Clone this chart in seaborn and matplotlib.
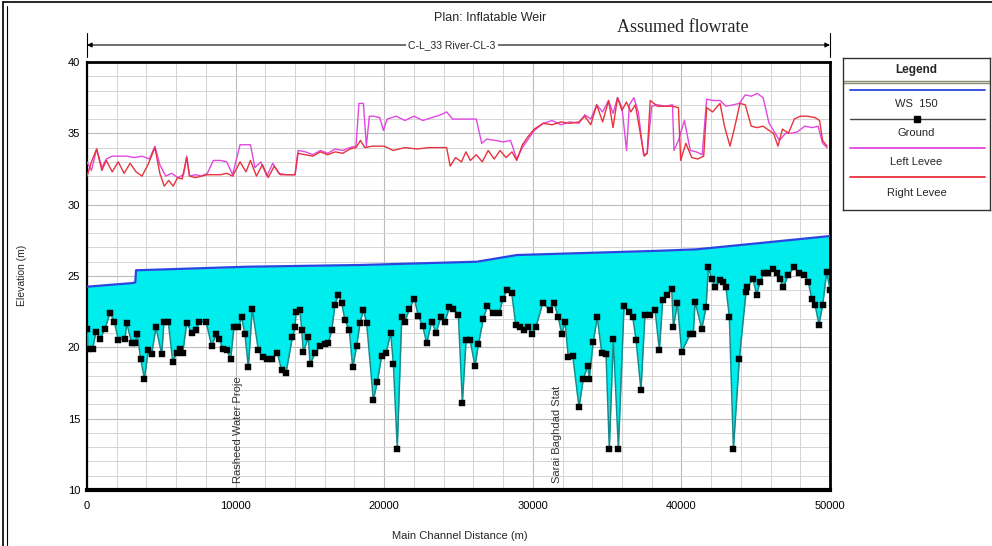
import numpy as np
import pandas as pd
import matplotlib
matplotlib.use('Agg')
import matplotlib.pyplot as plt
from matplotlib.lines import Line2D
import seaborn as sns

# ---------------- data ----------------
ground = [(0, 21.3), (60, 19.9), (380, 19.9), (606, 21.1), (875, 20.6), (1211, 21.3), (1548, 22.4),
          (1840, 21.8), (2110, 20.5), (2560, 20.6), (2670, 21.7), (3010, 20.3), (3230, 20.3), (3390, 20.9),
          (3610, 19.2), (3860, 17.8), (4130, 19.8), (4350, 19.5), (4640, 21.4), (5030, 19.5), (5180, 21.8),
          (5470, 21.8), (5770, 19.0), (6040, 19.6), (6260, 19.9), (6440, 19.6), (6710, 21.7), (7050, 21.0),
          (7340, 21.2), (7560, 21.8), (8010, 21.8), (8390, 20.1), (8680, 20.9), (8900, 20.6), (9130, 19.9),
          (9400, 19.8), (9670, 19.2), (9890, 21.4), (10180, 21.4), (10410, 22.1), (10630, 20.9), (10860, 18.6),
          (11120, 22.7), (11530, 19.8), (11820, 19.3), (12090, 19.2), (12430, 19.2), (12810, 19.6), (13100, 18.4),
          (13390, 18.2), (13820, 20.7), (14000, 21.4), (14070, 22.5), (14330, 22.6), (14450, 21.2), (14560, 19.7),
          (14900, 20.7), (15010, 18.8), (15350, 19.6), (15680, 20.1), (16020, 20.2), (16240, 20.3), (16470, 21.2),
          (16690, 23.0), (16910, 23.7), (17140, 23.1), (17360, 21.9), (17650, 21.2), (17880, 18.6), (18150, 20.1),
          (18370, 21.7), (18600, 22.6), (18820, 21.7), (19270, 16.3), (19540, 17.6), (19830, 19.4), (20120, 19.6),
          (20440, 21.0), (20620, 18.8), (20880, 12.9), (21180, 22.1), (21400, 21.8), (21690, 22.7), (22030, 23.4),
          (22300, 22.2), (22590, 21.5), (22860, 20.3), (23200, 21.8), (23490, 21.0), (23800, 22.1), (24090, 21.8),
          (24380, 22.8), (24650, 22.7), (24990, 22.3), (25260, 16.1), (25510, 20.5), (25780, 20.5), (26110, 18.7),
          (26340, 20.2), (26670, 22.0), (26940, 22.9), (27300, 22.4), (27750, 22.4), (27980, 23.4), (28250, 24.0),
          (28580, 23.8), (28850, 21.6), (29140, 21.4), (29430, 21.2), (29700, 21.4), (29930, 20.9), (30200, 21.4),
          (30670, 23.1), (31160, 22.6), (31430, 23.1), (31720, 22.1), (31950, 20.9), (32170, 21.8), (32390, 19.3),
          (32690, 19.4), (33110, 15.8), (33400, 17.8), (33700, 18.7), (33800, 17.8), (34070, 20.4), (34340, 22.1),
          (34640, 19.6), (34930, 19.5), (35150, 12.9), (35420, 20.6), (35760, 12.9), (36140, 22.9), (36500, 22.5),
          (36730, 22.1), (36950, 20.5), (37280, 17.0), (37550, 22.3), (37890, 22.3), (38230, 22.6), (38520, 19.8),
          (38740, 23.3), (39050, 23.7), (39350, 24.1), (39460, 21.4), (39730, 23.1), (40020, 19.7), (40580, 20.9),
          (40800, 20.9), (40920, 23.2), (41370, 21.3), (41660, 22.8), (41810, 25.6), (42040, 24.8), (42270, 24.2),
          (42600, 24.7), (42780, 24.6), (43000, 24.2), (43230, 22.1), (43500, 12.9), (43900, 19.2), (44350, 23.9),
          (44440, 24.2), (44800, 24.8), (45070, 23.7), (45290, 24.6), (45560, 25.2), (45850, 25.2), (46150, 25.5),
          (46410, 25.2), (46640, 24.8), (46860, 24.2), (47200, 25.1), (47580, 25.6), (47940, 25.2), (48280, 25.1),
          (48540, 24.6), (48770, 23.4), (48990, 23.0), (49260, 21.6), (49510, 23.0), (49780, 25.3), (50000, 24.0)]

ws_150 = [(0, 24.25), (3010, 24.5), (3250, 24.55), (3300, 25.4), (10750, 25.65), (18370, 25.77),
          (26230, 26.0), (28920, 26.47), (38560, 26.77), (41030, 26.87), (44620, 27.24), (50000, 27.8)]

left_levee = [(0, 33.0), (300, 32.4), (650, 33.9), (1000, 32.6), (1300, 33.2), (1700, 33.4), (2200, 33.4),
              (2700, 33.4), (3200, 33.3), (3700, 33.4), (4200, 33.2), (4570, 34.1), (4900, 32.8), (5300, 32.0),
              (5700, 32.2), (6100, 31.9), (6500, 32.1), (6710, 33.4), (6900, 32.0), (7300, 32.1), (7700, 32.0),
              (8100, 32.2), (8500, 33.1), (9000, 33.1), (9400, 33.0), (9800, 32.1), (10300, 34.2), (11000, 34.2),
              (11300, 32.6), (11700, 33.0), (12100, 32.0), (12500, 32.9), (12900, 32.2), (13400, 32.1), (14000, 32.1),
              (14200, 33.8), (14700, 33.7), (15200, 33.5), (15700, 33.8), (16200, 33.6), (16700, 33.9), (17200, 33.8),
              (17700, 34.0), (18100, 34.1), (18300, 37.1), (18600, 37.1), (18800, 34.1), (19000, 36.2), (19300, 36.2),
              (19700, 36.1), (19950, 35.2), (20200, 36.0), (20800, 36.2), (21400, 35.9), (22000, 36.2), (22600, 35.9),
              (23200, 36.1), (23800, 36.3), (24200, 36.5), (24600, 36.0), (25200, 36.0), (25800, 36.0), (26200, 36.0),
              (26560, 34.3), (26900, 34.6), (27500, 34.5), (28000, 34.4), (28500, 34.5), (28920, 33.2), (29300, 34.0),
              (29700, 34.6), (30100, 35.2), (30700, 35.7), (31300, 35.9), (31900, 35.6), (32500, 35.8), (33100, 35.7),
              (33500, 36.3), (33900, 36.0), (34300, 37.0), (34700, 36.5), (35100, 37.3), (35400, 36.4), (35700, 37.5),
              (36000, 36.8), (36310, 33.8), (36500, 37.0), (36800, 37.5), (37100, 36.5), (37450, 33.5), (37700, 33.6),
              (38000, 36.9), (38400, 37.0), (38900, 36.9), (39400, 37.0), (39500, 33.8), (39800, 34.5), (40200, 35.9),
              (40600, 33.8), (41000, 33.7), (41400, 33.5), (41700, 37.4), (42100, 37.3), (42600, 37.3), (43000, 36.9),
              (43500, 37.0), (43900, 37.1), (44300, 37.7), (44700, 37.6), (45100, 37.8), (45500, 37.5), (45900, 35.7),
              (46200, 35.2), (46600, 34.5), (47000, 35.0), (47400, 35.0), (47800, 35.1), (48300, 35.5), (48800, 35.4),
              (49200, 35.5), (49500, 34.3), (49800, 34.0)]

right_levee = [(0, 32.0), (300, 33.0), (650, 33.9), (1000, 32.4), (1300, 33.1), (1700, 32.3), (2100, 33.0),
               (2500, 32.2), (2900, 32.9), (3300, 32.3), (3700, 32.0), (4100, 32.8), (4570, 34.0), (4900, 32.2),
               (5200, 31.3), (5500, 31.7), (5800, 31.3), (6100, 31.9), (6400, 31.8), (6710, 33.3), (6900, 32.0),
               (7300, 31.9), (7700, 32.0), (8100, 32.1), (8500, 32.1), (9000, 32.1), (9400, 32.2), (9800, 32.0),
               (10300, 33.0), (10700, 32.3), (11000, 33.1), (11400, 32.0), (11800, 32.8), (12200, 31.9), (12600, 32.7),
               (13000, 32.1), (13500, 32.1), (14000, 32.1), (14200, 33.6), (14700, 33.5), (15200, 33.4), (15700, 33.7),
               (16200, 33.5), (16700, 33.7), (17200, 33.6), (17700, 33.9), (18100, 34.0), (18400, 34.5), (18700, 34.0),
               (19200, 34.1), (20000, 34.1), (20600, 33.8), (21400, 34.0), (22200, 33.9), (23000, 34.0), (24200, 34.0),
               (24440, 32.7), (24800, 33.3), (25200, 33.0), (25500, 33.7), (25800, 33.1), (26200, 33.5), (26600, 33.0),
               (27000, 33.8), (27400, 33.2), (27800, 33.8), (28200, 33.3), (28600, 33.7), (28920, 33.1), (29300, 34.2),
               (29700, 34.8), (30100, 35.3), (30700, 35.7), (31300, 35.6), (31900, 35.8), (32500, 35.7), (33100, 35.8),
               (33500, 36.2), (33900, 35.6), (34300, 37.0), (34700, 35.8), (35100, 37.3), (35400, 35.4), (35700, 37.5),
               (36000, 36.6), (36300, 37.2), (36600, 36.5), (36900, 37.0), (37200, 35.2), (37500, 33.4), (37700, 33.6),
               (37900, 37.3), (38400, 36.9), (38900, 36.9), (39400, 36.9), (39800, 36.8), (39950, 33.1), (40300, 34.3),
               (40700, 33.3), (41100, 33.2), (41500, 33.4), (41700, 36.8), (42100, 36.5), (42600, 37.1), (42900, 35.5),
               (43270, 34.1), (43600, 35.5), (43940, 37.1), (44300, 37.0), (44700, 35.5), (45100, 35.4), (45500, 35.5),
               (45900, 35.2), (46200, 35.0), (46500, 34.1), (46800, 35.3), (47200, 35.0), (47600, 36.0), (48000, 36.2),
               (48500, 36.2), (49000, 36.1), (49300, 35.9), (49500, 34.5), (49800, 34.1)]

x_ticks = [0, 10000, 20000, 30000, 40000, 50000]
y_ticks = [10, 15, 20, 25, 30, 35, 40]
legend_labels = ["WS  150", "Ground", "Left Levee", "Right Levee"]
stations = [(10150, "Rasheed Water Proje"), (31650, "Sarai Baghdad Stat")]

# ---------------- styling ----------------
sns.set_style('white')
plt.rcParams['font.family'] = ['Liberation Sans', 'DejaVu Sans']

W, H = 992, 546
fig = plt.figure(figsize=(W / 100, H / 100), dpi=100)
ax = fig.add_axes([87 / W, 1 - 490 / H, (830 - 87) / W, (490 - 62) / H])

C_WS = '#2b45e0'
C_FILL = '#00eded'
C_GLINE = '#178a8a'
C_LEFT = '#e048e0'
C_RIGHT = '#e8323c'

def frame(pts):
    return pd.DataFrame(pts, columns=['x', 'y'])

g = frame(ground)
w = frame(ws_150)
ll = frame(left_levee)
rl = frame(right_levee)

grid_x = np.union1d(g['x'].values, w['x'].values)
ws_i = np.interp(grid_x, w['x'], w['y'])
gr_i = np.interp(grid_x, g['x'], g['y'])
ax.fill_between(grid_x, gr_i, ws_i, where=ws_i >= gr_i, interpolate=True,
                color=C_FILL, lw=0, zorder=2)

sns.lineplot(data=w, x='x', y='y', ax=ax, color=C_WS, lw=1.6, estimator=None, sort=False, zorder=3)
sns.lineplot(data=ll, x='x', y='y', ax=ax, color=C_LEFT, lw=1.0, estimator=None, sort=False, zorder=3)
sns.lineplot(data=rl, x='x', y='y', ax=ax, color=C_RIGHT, lw=1.0, estimator=None, sort=False, zorder=3)
sns.lineplot(data=g, x='x', y='y', ax=ax, color=C_GLINE, lw=1.1, estimator=None, sort=False, zorder=4)
sns.scatterplot(data=g, x='x', y='y', ax=ax, marker='s', s=16, color='black',
                edgecolor='black', linewidth=0.3, zorder=5)

ax.set_xlim(0, 50000)
ax.set_ylim(10, 40)
ax.set_xticks(x_ticks)
ax.set_xticks(np.arange(0, 50001, 2000), minor=True)
ax.set_yticks(y_ticks)
ax.set_yticks(np.arange(10, 41, 1), minor=True)
ax.set_xticklabels([str(v) for v in x_ticks])
ax.set_yticklabels([str(v) for v in y_ticks])
ax.grid(which='minor', color='#d4d4d4', lw=0.7, zorder=0)
ax.grid(which='major', color='#bcbcbc', lw=0.8, zorder=0)
ax.set_axisbelow(True)
ax.tick_params(which='major', direction='out', length=3, width=0.8, labelsize=8, pad=2, colors='black')
ax.tick_params(which='minor', direction='out', length=2, width=0.6)
ax.tick_params(axis='x', pad=5)
ax.set_xlabel('')
ax.set_ylabel('')
for side, lw in [('left', 1.6), ('right', 2.0), ('top', 2.0), ('bottom', 3.0)]:
    ax.spines[side].set_visible(True)
    ax.spines[side].set_color('black')
    ax.spines[side].set_linewidth(lw)

for sx, label in stations:
    ax.text(sx, 10.5, label, rotation=90, ha='center', va='bottom', fontsize=8,
            color='#333333', zorder=6)

# axis labels
fig.text(460 / W, 1 - 536 / H, 'Main Channel Distance (m)', ha='center', va='center', fontsize=8)
fig.text(22 / W, 1 - 275 / H, 'Elevation (m)', ha='center', va='center', fontsize=7.5, rotation=90)

# titles
fig.text(490 / W, 1 - 18 / H, 'Plan: Inflatable Weir', ha='center', va='center', fontsize=9)
fig.text(683 / W, 1 - 27 / H, 'Assumed flowrate', ha='center', va='center', fontsize=13,
         family=['Liberation Serif', 'DejaVu Serif'])

# reach arrow
ya = 1 - 45 / H
ax.annotate('', xy=(87 / W, ya), xytext=(830 / W, ya), xycoords='figure fraction',
            textcoords='figure fraction',
            arrowprops=dict(arrowstyle='<|-|>', color='black', lw=0.8, mutation_scale=7,
                            shrinkA=0, shrinkB=0))
for xe in (87, 830):
    fig.add_artist(Line2D([xe / W, xe / W], [1 - 33 / H, 1 - 57 / H], color='black', lw=0.8))
fig.text(452 / W, ya, 'C-L_33 River-CL-3', ha='center', va='center', fontsize=7.5,
         bbox=dict(facecolor='white', edgecolor='none', pad=1.5))

# figure border
fig.add_artist(Line2D([3 / W, 3 / W], [0, 1 - 2 / H], color='black', lw=1.2))
fig.add_artist(Line2D([7 / W, 7 / W], [0, 1 - 6 / H], color='black', lw=0.8))
fig.add_artist(Line2D([3 / W, 1], [1 - 2 / H, 1 - 2 / H], color='black', lw=1.2))

# legend panel
lx0, lx1, ly0, ly1 = 843, 990, 58, 210
lax = fig.add_axes([lx0 / W, 1 - ly1 / H, (lx1 - lx0) / W, (ly1 - ly0) / H])
lax.set_xlim(lx0, lx1)
lax.set_ylim(ly1, ly0)
lax.set_xticks([])
lax.set_yticks([])
for s in lax.spines.values():
    s.set_color('#333333')
    s.set_linewidth(1.0)
cx = (lx0 + lx1) / 2
lax.text(cx, 70, 'Legend', ha='center', va='center', fontsize=8.5, fontweight='bold')
lax.plot([lx0, lx1], [80.5, 80.5], color='#8a8a70', lw=1.0)
lax.plot([lx0, lx1], [82.5, 82.5], color='#8a8a70', lw=1.0)
sx0, sx1 = 850, 985
lax.plot([sx0, sx1], [90, 90], color=C_WS, lw=1.3)
lax.text(cx, 104, legend_labels[0], ha='center', va='center', fontsize=8)
lax.plot([sx0, sx1], [119, 119], color='#444444', lw=1.0)
lax.plot([cx], [119], marker='s', ms=4, color='black')
lax.text(cx, 133, legend_labels[1], ha='center', va='center', fontsize=8)
lax.plot([sx0, sx1], [148, 148], color=C_LEFT, lw=1.3)
lax.text(cx, 162, legend_labels[2], ha='center', va='center', fontsize=8)
lax.plot([sx0, sx1], [177, 177], color=C_RIGHT, lw=1.3)
lax.text(cx, 193, legend_labels[3], ha='center', va='center', fontsize=8)

fig.savefig('out.png', dpi=100)
